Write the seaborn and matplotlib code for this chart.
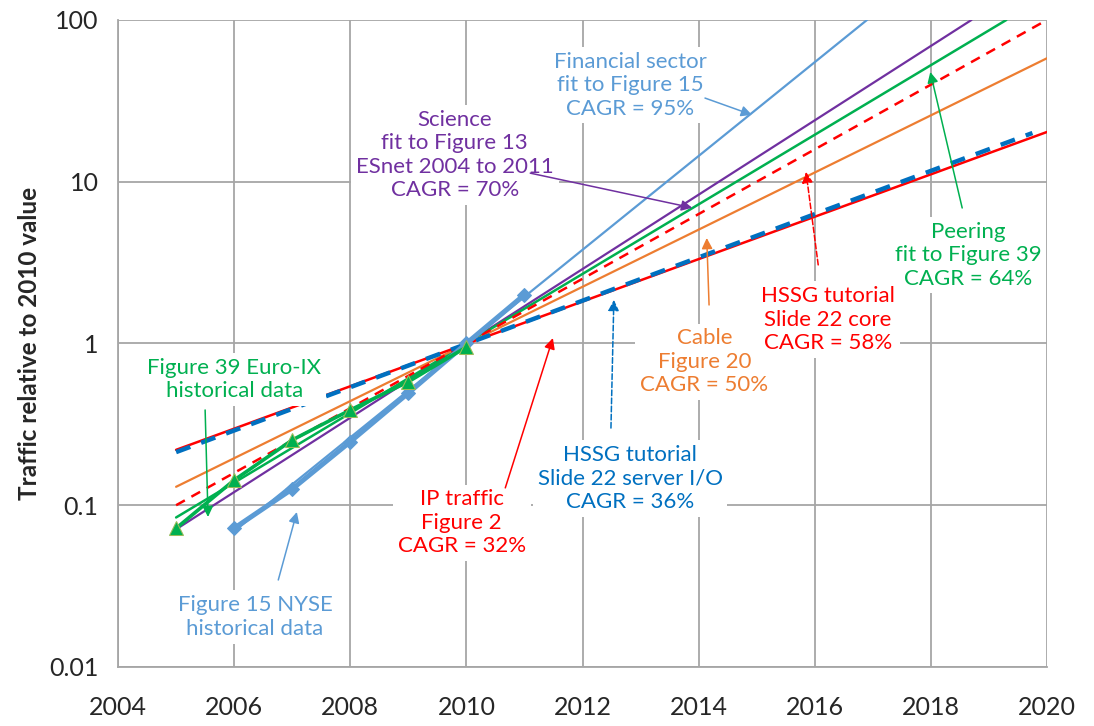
import numpy as np
import pandas as pd
import seaborn as sns
import matplotlib
matplotlib.use('Agg')
from matplotlib import pyplot as plt

# historical data (markers)
nyse_years = [2006, 2007, 2008, 2009, 2010, 2011]
nyse_values = [0.072, 0.126, 0.247, 0.494, 1.0, 2.0]
euroix_years = [2005, 2006, 2007, 2008, 2009, 2010]
euroix_values = [0.072, 0.143, 0.253, 0.388, 0.58, 0.95]

# CAGR fit lines: start/end year and value
fit_names = ['Financial', 'Science', 'Peering', 'HSSG core', 'Cable', 'HSSG server', 'IP traffic']
fit_start_year = [2006, 2005, 2005, 2005, 2005, 2005, 2005]
fit_end_year = [2016.9, 2018.7, 2019.3, 2020, 2020, 2019.75, 2020]
fit_start_value = [0.069, 0.071, 0.084, 0.10, 0.13, 0.213, 0.22]
fit_end_value = [100, 100, 100, 100, 58, 20.0, 20.3]

fit_colors = ['#5B9BD5', '#7030A0', '#00B050', '#FF0000', '#ED7D31', '#0070C0', '#FF0000']
fit_widths = [1.6, 1.6, 1.8, 1.8, 1.6, 3.2, 1.8]
fit_dashes = ['-', '-', '-', (0, (4, 3)), '-', (0, (3.4, 2.6)), '-']
fit_z = [3, 3, 3, 4, 3, 5, 4]

sns.set_style('white')
plt.rcParams['font.family'] = ['Lato', 'DejaVu Sans']

fig = plt.figure(figsize=(10.94, 7.26), dpi=100)
ax = fig.add_axes([0.1079, 0.0813, 0.8491, 0.8912])

for i, name in enumerate(fit_names):
    d = pd.DataFrame({'year': [fit_start_year[i], fit_end_year[i]],
                      'value': [fit_start_value[i], fit_end_value[i]]})
    sns.lineplot(data=d, x='year', y='value', ax=ax, color=fit_colors[i],
                 lw=fit_widths[i], linestyle=fit_dashes[i], zorder=fit_z[i])

nyse = pd.DataFrame({'year': nyse_years, 'value': nyse_values})
sns.lineplot(data=nyse, x='year', y='value', ax=ax, color='#5B9BD5', lw=3.6,
             marker='D', markersize=7, markeredgecolor='#5B9BD5', zorder=6)
euro = pd.DataFrame({'year': euroix_years, 'value': euroix_values})
sns.lineplot(data=euro, x='year', y='value', ax=ax, color='#00B050', lw=2.6,
             marker='^', markersize=10, markerfacecolor='#00B050',
             markeredgecolor='#9BBB59', zorder=6)

ax.set_yscale('log')
ax.set_xlim(2004, 2020)
ax.set_ylim(0.01, 100)
ax.set_xticks(range(2004, 2021, 2))
ax.set_yticks([0.01, 0.1, 1, 10, 100])
ax.set_yticklabels(['0.01', '0.1', '1', '10', '100'])
ax.minorticks_off()
ax.grid(True, color='#A6A6A6', lw=1.3, zorder=0)
ax.set_axisbelow(True)
for s in ['top', 'right']:
    ax.spines[s].set_visible(False)
for s in ['left', 'bottom']:
    ax.spines[s].set_color('#A6A6A6')
    ax.spines[s].set_linewidth(1.3)
ax.tick_params(axis='both', which='major', length=7, width=1.3, color='#A6A6A6',
               labelsize=18, pad=7)
ax.tick_params(axis='x', pad=14)
ax.set_xlabel('')
ax.set_ylabel('Traffic relative to 2010 value', fontsize=17.5, fontweight='bold', labelpad=6)

box = dict(facecolor='white', edgecolor='none', pad=3.5)
fs = 16

def note(text, xy, xytext, color, arrow_from, dashed=False):
    # white box first (hidden text), then the text on top of every box
    ax.text(xytext[0], xytext[1], text, color='none', fontsize=fs, ha='center', va='center',
            linespacing=1.22, bbox=box, zorder=10)
    ax.text(xytext[0], xytext[1], text, color=color, fontsize=fs, ha='center', va='center',
            linespacing=1.22, zorder=12)
    ax.annotate('', xy=xy, xytext=arrow_from,
                arrowprops=dict(arrowstyle='-|>', color=color, lw=1.1, mutation_scale=16,
                                linestyle='--' if dashed else '-', shrinkA=0, shrinkB=0),
                zorder=11)

note('Financial sector\nfit to Figure 15\nCAGR = 95%', (2014.92, 25.9), (2012.82, 39.6),
     '#5B9BD5', (2014.11, 32.9))
note('Science\nfit to Figure 13\nESnet 2004 to 2011\nCAGR = 70%', (2013.89, 6.9), (2009.8, 14.6),
     '#7030A0', (2011.1, 11.3))
note('Peering\nfit to Figure 39\nCAGR = 64%', (2017.99, 47.7), (2018.64, 3.52),
     '#00B050', (2018.54, 6.88))
note('HSSG tutorial\nSlide 22 core\nCAGR = 58%', (2015.85, 11.5), (2016.23, 1.40),
     '#FF0000', (2016.06, 3.06), dashed=True)
note('Cable\nFigure 20\nCAGR = 50%', (2014.14, 4.49), (2014.1, 0.769),
     '#ED7D31', (2014.18, 1.73))
note('HSSG tutorial\nSlide 22 server I/O\nCAGR = 36%', (2012.54, 1.86), (2012.82, 0.147),
     '#0070C0', (2012.49, 0.30), dashed=True)
note('IP traffic\nFigure 2\nCAGR = 32%', (2011.49, 1.08), (2009.92, 0.0777),
     '#FF0000', (2010.67, 0.128))
note('Figure 39 Euro-IX\nhistorical data', (2005.55, 0.0846), (2006.0, 0.6),
     '#00B050', (2005.5, 0.388))
note('Figure 15 NYSE\nhistorical data', (2007.08, 0.0908), (2006.36, 0.0204),
     '#5B9BD5', (2006.76, 0.0345))

fig.savefig('out.png', dpi=100)
